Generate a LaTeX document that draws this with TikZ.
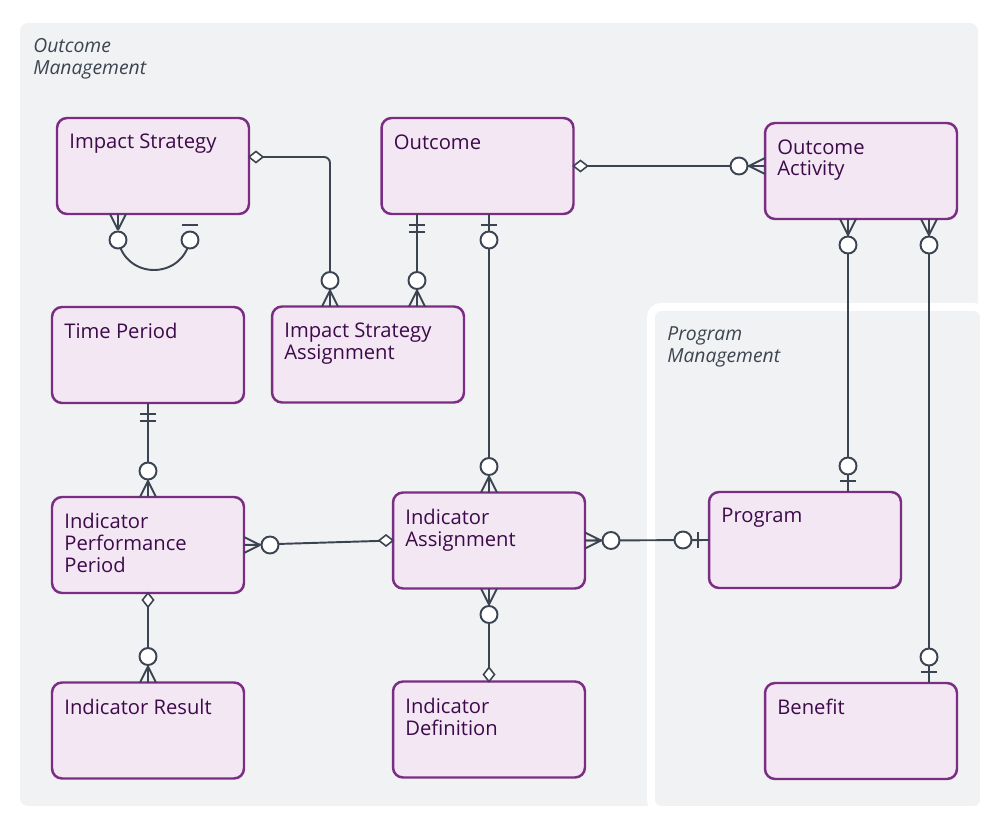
\documentclass[tikz,border=0pt]{standalone}
\usepackage{fontspec}
\setmainfont{Open Sans}
\usetikzlibrary{calc}
\definecolor{panel}{HTML}{F1F2F4}
\definecolor{boxfill}{HTML}{F3E7F4}
\definecolor{boxline}{HTML}{7B2C83}
\definecolor{boxtext}{HTML}{3D0A4A}
\definecolor{conncol}{HTML}{3B4450}
\tikzset{
  entity/.style={draw=boxline,fill=boxfill,line width=1.4pt,rounded corners=0.2cm,
    minimum width=3.84cm,minimum height=1.92cm,outer sep=0pt},
  ename/.style={anchor=north west,text=boxtext,font=\fontsize{11.5}{12.5}\selectfont,align=left,inner sep=0pt},
  conn/.style={draw=conncol,line width=1.1pt},
  area/.style={anchor=north west,text=conncol,font=\fontsize{11}{12.5}\selectfont\itshape,align=left,inner sep=0pt}
}
% end markers, drawn at a box edge, pointing away from the box
\newcommand{\markCrow}[2]{\begin{scope}[shift={(#1)},rotate=#2]
  \draw[conn] (0,-8)--(16,0) (0,0)--(16,0) (0,8)--(16,0);
  \draw[conn,fill=white] (26,0) circle (0.17cm);\end{scope}}
\newcommand{\markOne}[2]{\begin{scope}[shift={(#1)},rotate=#2]
  \draw[conn] (11,-8)--(11,8);
  \draw[conn,fill=white] (26,0) circle (0.17cm);\end{scope}}
\newcommand{\markOnly}[2]{\begin{scope}[shift={(#1)},rotate=#2]
  \draw[conn] (11,-8)--(11,8) (18,-8)--(18,8);\end{scope}}
\newcommand{\markDia}[2]{\begin{scope}[shift={(#1)},rotate=#2]
  \draw[conn,line width=0.9pt,fill=white] (0,0)--(7,-5.5)--(14,0)--(7,5.5)--cycle;\end{scope}}
\begin{document}
\begin{tikzpicture}[x=0.02cm,y=-0.02cm]
\useasboundingbox (0,0) rectangle (1000,824);
\fill[panel,rounded corners=0.16cm] (20,23) rectangle (978,806);
\draw[white,fill=panel,line width=4.5pt,rounded corners=0.2cm] (651,307) rectangle (984,810);
\node[area] (om) at (33,38) {Outcome\\Management};
\node[area] (pm) at (667,326) {Program\\Management};

\node[entity] (is) at (153,166) {};
\node[entity] (oc) at (477.5,166) {};
\node[entity] (oa) at (861,171) {};
\node[entity] (tp) at (148,355) {};
\node[entity] (isa) at (368,354.5) {};
\node[entity] (ipp) at (148,545) {};
\node[entity] (ia) at (489,540.5) {};
\node[entity] (pg) at (805,540) {};
\node[entity] (ir) at (148,730.5) {};
\node[entity] (id) at (489,729.5) {};
\node[entity] (bn) at (861,731) {};

\node[ename] (isT) at ($(is.north west)+(12,16)$) {Impact Strategy};
\node[ename] (ocT) at ($(oc.north west)+(12,16)$) {Outcome};
\node[ename] (oaT) at ($(oa.north west)+(12,16)$) {Outcome\\Activity};
\node[ename] (tpT) at ($(tp.north west)+(12,16)$) {Time Period};
\node[ename] (isaT) at ($(isa.north west)+(12,16)$) {Impact Strategy\\Assignment};
\node[ename] (ippT) at ($(ipp.north west)+(12,16)$) {Indicator\\Performance\\Period};
\node[ename] (iaT) at ($(ia.north west)+(12,16)$) {Indicator\\Assignment};
\node[ename] (pgT) at ($(pg.north west)+(12,16)$) {Program};
\node[ename] (irT) at ($(ir.north west)+(12,16)$) {Indicator Result};
\node[ename] (idT) at ($(id.north west)+(12,16)$) {Indicator\\Definition};
\node[ename] (bnT) at ($(bn.north west)+(12,16)$) {Benefit};

% connector ends
\coordinate (isA) at ($(is.south)+(-35,0)$);
\coordinate (isB) at ($(is.south)+(37,0)$);
\coordinate (isE) at ($(is.east)+(0,-9)$);
\coordinate (isaA) at ($(isa.north)+(-38,0)$);
\coordinate (isaB) at ($(isa.north)+(49,0)$);
\coordinate (ocA) at ($(oc.south)+(-60.5,0)$);
\coordinate (ocB) at ($(oc.south)+(11.5,0)$);
\coordinate (oaW) at (oc.east -| oa.west);
\coordinate (oaA) at ($(oa.south)+(-13,0)$);
\coordinate (oaB) at ($(oa.south)+(68,0)$);
\coordinate (pgN) at ($(pg.north)+(43,0)$);
\coordinate (bnN) at ($(bn.north)+(68,0)$);

% connectors
\draw[conn] ($(isA)+(0,26)$) .. controls ($(isA)+(8,66)$) and ($(isB)+(-8,66)$) .. ($(isB)+(0,26)$);
\draw[conn,rounded corners=0.12cm] (isE) -- (isE -| isaA) -- (isaA);
\draw[conn] (ocA) -- (isaB);
\draw[conn] (ocB) -- (ia.north);
\draw[conn] (oc.east) -- (oaW);
\draw[conn] (oaA) -- (pgN);
\draw[conn] (oaB) -- (bnN);
\draw[conn] (tp.south) -- (ipp.north);
\draw[conn] (ipp.east) -- (ia.west);
\draw[conn] (ia.east) -- (pg.west);
\draw[conn] (ia.south) -- (id.north);
\draw[conn] (ipp.south) -- (ir.north);

% markers
\markCrow{isA}{-90}
\markOne{isB}{-90}
\markDia{isE}{0}
\markCrow{isaA}{90}
\markOnly{ocA}{-90}
\markCrow{isaB}{90}
\markOne{ocB}{-90}
\markCrow{ia.north}{90}
\markDia{oc.east}{0}
\markCrow{oaW}{180}
\markCrow{oaA}{-90}
\markOne{pgN}{90}
\markCrow{oaB}{-90}
\markOne{bnN}{90}
\markOnly{tp.south}{-90}
\markCrow{ipp.north}{90}
\markCrow{ipp.east}{0}
\markDia{ia.west}{180}
\markCrow{ia.east}{0}
\markOne{pg.west}{180}
\markCrow{ia.south}{-90}
\markDia{id.north}{90}
\markDia{ipp.south}{-90}
\markCrow{ir.north}{90}
\end{tikzpicture}
\end{document}
